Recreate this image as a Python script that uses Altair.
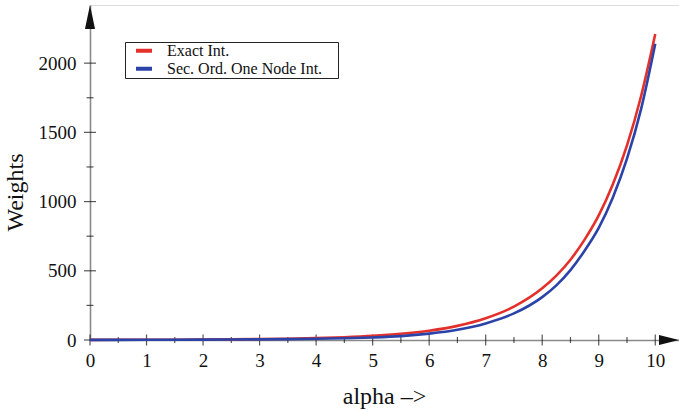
import altair as alt
import pandas as pd

# Integration weights versus the exponent alpha
alpha = [0, 0.5, 1, 1.5, 2, 2.5, 3, 3.5, 4, 4.5, 5, 5.5, 6, 6.5, 7, 7.5,
         8, 8.25, 8.5, 8.75, 9, 9.25, 9.5, 9.75, 10]
exact_int = [1, 1.3, 1.7, 2.2, 3.2, 4.5, 6.4, 9.3, 13.4, 19.8, 29.5, 44.6,
             67, 102, 157, 241, 373, 465, 580, 725, 900, 1125, 1406, 1763, 2210]
one_node_int = [1, 1.25, 1.55, 1.9, 2.5, 3.3, 4.5, 6.3, 8.8, 12.7, 18.5, 28,
                46, 74, 120, 192, 310, 395, 505, 645, 810, 1030, 1310, 1670, 2140]

series_names = ["Exact Int.", "Sec. Ord. One Node Int."]
series_colors = ["#e3302b", "#2b43a8"]

x_major = list(range(0, 11))
x_minor = [0.5, 1.5, 2.5, 3.5, 4.5, 5.5, 6.5, 7.5, 8.5, 9.5]
y_major = [0, 500, 1000, 1500, 2000]
y_minor = [250, 750, 1250, 1750]

x_end = 10.42   # axis runs a little past the last tick, up to the arrow tip
y_end = 2420

FONT = "Liberation Serif"

rows = []
for name, vals in zip(series_names, [exact_int, one_node_int]):
    for a, v in zip(alpha, vals):
        rows.append({"alpha": a, "weight": v, "series": name})
df = pd.DataFrame(rows)

xs = alt.Scale(domain=[0, x_end], nice=False, zero=False)
ys = alt.Scale(domain=[0, y_end], nice=False, zero=False)

x_axis = alt.Axis(values=x_major, format="d", title="alpha \u2013>", grid=False,
                  ticks=False, tickSize=0, domainColor="#8a8a8a", domainWidth=1.6,
                  labelFont=FONT, labelFontSize=19, labelColor="#111",
                  labelPadding=11, labelFlush=False,
                  titleFont=FONT, titleFontSize=24, titleFontWeight="normal",
                  titleColor="#111", titleX=294, titleY=56, titleBaseline="middle",
                  titleAlign="center")
y_axis = alt.Axis(values=y_major, format="d", title="Weights", grid=False,
                  ticks=False, tickSize=0, domainColor="#8a8a8a", domainWidth=1.6,
                  labelFont=FONT, labelFontSize=19, labelColor="#111",
                  labelPadding=14, labelFlush=False,
                  titleFont=FONT, titleFontSize=24, titleFontWeight="normal",
                  titleColor="#111", titleX=-75, titleY=187, titleAngle=-90,
                  titleBaseline="middle", titleAlign="center")

# legend box: an empty right-hand title only widens the frame on that side
legend = alt.Legend(title="\u00a0", titleOrient="right", titlePadding=16,
                    titleFontSize=1, titleOpacity=0,
                    orient="none", legendX=35, legendY=37,
                    direction="vertical", symbolType="stroke",
                    symbolSize=256, symbolStrokeWidth=4,
                    symbolOffset=9, clipHeight=17.5,
                    labelFont=FONT, labelFontSize=16, labelColor="#111",
                    labelOffset=13, labelLimit=400,
                    rowPadding=0, padding=0,
                    strokeColor="#222", fillColor="white")

lines = alt.Chart(df).mark_line(strokeWidth=2.6, interpolate="monotone").encode(
    x=alt.X("alpha:Q", scale=xs, axis=x_axis),
    y=alt.Y("weight:Q", scale=ys, axis=y_axis),
    color=alt.Color("series:N",
                    scale=alt.Scale(domain=series_names, range=series_colors),
                    legend=legend),
)

# tick marks crossing the axis lines
xt_major = alt.Chart(pd.DataFrame({"v": x_major})).mark_tick(
    orient="vertical", size=11, thickness=1.2, color="#111").encode(
    x=alt.X("v:Q", scale=xs), y=alt.datum(0, scale=ys))
xt_minor = alt.Chart(pd.DataFrame({"v": x_minor})).mark_tick(
    orient="vertical", size=6, thickness=1.2, color="#111").encode(
    x=alt.X("v:Q", scale=xs), y=alt.datum(0, scale=ys))
yt_major = alt.Chart(pd.DataFrame({"v": y_major})).mark_tick(
    orient="horizontal", size=12, thickness=1.2, color="#111").encode(
    y=alt.Y("v:Q", scale=ys), x=alt.datum(0, scale=xs))
yt_minor = alt.Chart(pd.DataFrame({"v": y_minor})).mark_tick(
    orient="horizontal", size=7, thickness=1.2, color="#111").encode(
    y=alt.Y("v:Q", scale=ys), x=alt.datum(0, scale=xs))

# arrow heads at the ends of both axes
y_arrow = alt.Chart(pd.DataFrame({"a": [0], "w": [y_end]})).mark_point(
    shape="M0,-1L0.42,1L-0.42,1Z", size=576, filled=True, opacity=1,
    fill="#111", strokeWidth=0, yOffset=12).encode(
    x=alt.X("a:Q", scale=xs), y=alt.Y("w:Q", scale=ys))
x_arrow = alt.Chart(pd.DataFrame({"a": [x_end], "w": [0]})).mark_point(
    shape="M1,0L-1,-0.5L-1,0.5Z", size=400, filled=True, opacity=1,
    fill="#111", strokeWidth=0, xOffset=-10).encode(
    x=alt.X("a:Q", scale=xs), y=alt.Y("w:Q", scale=ys))

chart = alt.layer(xt_major, xt_minor, yt_major, yt_minor, lines, y_arrow, x_arrow).properties(
    width=589, height=335,
    autosize=alt.AutoSizeParams(type="none"),
    padding={"left": 90, "top": 5, "right": 0, "bottom": 70},
).configure_view(stroke=None).configure_legend(labelFont=FONT).configure(background="white")

chart.save("out.html", embed_options={"renderer": "svg", "actions": False})
